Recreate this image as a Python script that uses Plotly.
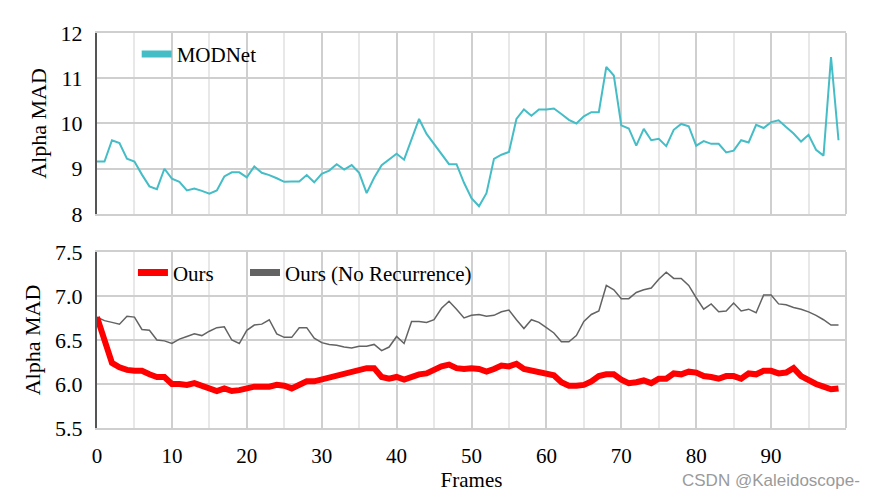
import plotly.graph_objects as go

frames = list(range(100))

modnet = [9.16, 9.16, 9.63, 9.57, 9.22, 9.16, 8.87, 8.61, 8.55, 9.00,
          8.78, 8.71, 8.52, 8.56, 8.51, 8.45, 8.52, 8.83, 8.92, 8.92,
          8.81, 9.05, 8.91, 8.86, 8.79, 8.71, 8.72, 8.72, 8.86, 8.70,
          8.89, 8.96, 9.10, 8.98, 9.08, 8.91, 8.46, 8.80, 9.08, 9.20,
          9.33, 9.20, 9.64, 10.10, 9.77, 9.55, 9.33, 9.10, 9.10, 8.69,
          8.35, 8.17, 8.46, 9.22, 9.31, 9.37, 10.10, 10.31, 10.17, 10.31,
          10.31, 10.33, 10.21, 10.08, 10.00, 10.16, 10.25, 10.25, 11.25, 11.06,
          9.96, 9.89, 9.51, 9.88, 9.63, 9.66, 9.50, 9.86, 9.99, 9.94,
          9.51, 9.61, 9.55, 9.55, 9.36, 9.40, 9.63, 9.58, 9.97, 9.90,
          10.03, 10.07, 9.92, 9.78, 9.60, 9.75, 9.42, 9.29, 11.47, 9.63]

ours = [6.76, 6.47, 6.24, 6.19, 6.16, 6.15, 6.15, 6.11, 6.08, 6.08,
        6.00, 6.00, 5.99, 6.01, 5.98, 5.94, 5.92, 5.95, 5.92, 5.93,
        5.95, 5.97, 5.97, 5.97, 5.99, 5.98, 5.95, 5.99, 6.03, 6.03,
        6.05, 6.08, 6.09, 6.11, 6.14, 6.16, 6.18, 6.18, 6.08, 6.06,
        6.08, 6.05, 6.08, 6.11, 6.12, 6.16, 6.20, 6.22, 6.18, 6.17,
        6.18, 6.17, 6.14, 6.17, 6.21, 6.20, 6.23, 6.17, 6.15, 6.14,
        6.11, 6.10, 6.02, 5.98, 5.98, 5.99, 6.03, 6.09, 6.11, 6.11,
        6.05, 6.01, 6.02, 6.04, 6.01, 6.06, 6.06, 6.12, 6.11, 6.14,
        6.13, 6.09, 6.08, 6.06, 6.09, 6.09, 6.06, 6.12, 6.11, 6.15,
        6.15, 6.12, 6.13, 6.18, 6.09, 6.04, 6.00, 5.97, 5.94, 5.95]

ours_norec = [6.76, 6.72, 6.70, 6.68, 6.77, 6.76, 6.62, 6.61, 6.50, 6.49,
              6.46, 6.51, 6.54, 6.57, 6.55, 6.60, 6.64, 6.65, 6.50, 6.46,
              6.61, 6.67, 6.68, 6.73, 6.57, 6.53, 6.53, 6.64, 6.64, 6.52,
              6.47, 6.45, 6.44, 6.42, 6.41, 6.43, 6.43, 6.45, 6.38, 6.42,
              6.54, 6.46, 6.71, 6.71, 6.70, 6.73, 6.86, 6.94, 6.85, 6.75,
              6.78, 6.79, 6.77, 6.78, 6.82, 6.84, 6.73, 6.63, 6.73, 6.70,
              6.64, 6.58, 6.48, 6.48, 6.55, 6.71, 6.79, 6.83, 7.12, 7.07,
              6.97, 6.97, 7.04, 7.07, 7.09, 7.19, 7.27, 7.20, 7.20, 7.12,
              6.98, 6.85, 6.91, 6.82, 6.83, 6.92, 6.83, 6.85, 6.81, 7.01,
              7.01, 6.91, 6.90, 6.87, 6.85, 6.82, 6.78, 6.73, 6.67, 6.67]

x_ticks = list(range(0, 100, 10))
x_minor = list(range(5, 100, 10))
top_ticks = [8, 9, 10, 11, 12]
bot_ticks = [5.5, 6.0, 6.5, 7.0, 7.5]

CYAN = "#45BDC6"
RED = "#FF0000"
GRAY = "#636363"
FONT = "Liberation Serif"

fig = go.Figure()

# data traces
fig.add_trace(go.Scatter(x=frames, y=modnet, mode="lines", line=dict(color=CYAN, width=2),
                         showlegend=False, xaxis="x", yaxis="y"))
fig.add_trace(go.Scatter(x=frames, y=ours_norec, mode="lines", line=dict(color=GRAY, width=1.5),
                         showlegend=False, xaxis="x2", yaxis="y2"))
fig.add_trace(go.Scatter(x=frames, y=ours, mode="lines", line=dict(color=RED, width=6),
                         showlegend=False, xaxis="x2", yaxis="y2"))

# legend entries
fig.add_trace(go.Scatter(x=[None], y=[None], mode="lines", name="MODNet",
                         line=dict(color=CYAN, width=7), xaxis="x", yaxis="y", legend="legend"))
fig.add_trace(go.Scatter(x=[None], y=[None], mode="lines", name="Ours",
                         line=dict(color=RED, width=7), xaxis="x2", yaxis="y2", legend="legend2"))
fig.add_trace(go.Scatter(x=[None], y=[None], mode="lines", name="Ours (No Recurrence)",
                         line=dict(color=GRAY, width=7), xaxis="x2", yaxis="y2", legend="legend3"))

xcommon = dict(range=[0, 100], tickvals=x_ticks, showgrid=True, gridcolor="#CFCFCF", gridwidth=1.5,
               minor=dict(tickvals=x_minor, showgrid=True, gridcolor="#E8E8E8", gridwidth=1.5),
               showline=True, linecolor="#CFCFCF", linewidth=2, mirror=True, zeroline=False,
               ticks="", tickfont=dict(family=FONT, size=21, color="black"))
ybase = dict(showgrid=True, gridcolor="#CFCFCF", gridwidth=1.5, zeroline=False,
             showline=True, linecolor="#555555", linewidth=2, ticks="",
             ticklabelstandoff=8,
             tickfont=dict(family=FONT, size=22, color="black"))

y_top_dom = [0.5418, 1.0]
y_bot_dom = [0.0, 0.4456]
legfont = dict(family=FONT, size=21, color="black")

fig.update_layout(
    width=880, height=500,
    margin=dict(l=97, r=34, t=33, b=72),
    plot_bgcolor="white", paper_bgcolor="white",
    font=dict(family=FONT, color="black"),
    xaxis=dict(**xcommon, anchor="y", showticklabels=False, domain=[0, 1]),
    xaxis2=dict(**xcommon, anchor="y2", matches="x", domain=[0, 1], ticklabelstandoff=8,
                title=dict(text="Frames", font=dict(family=FONT, size=21, color="black"), standoff=0)),
    yaxis=dict(**ybase, domain=y_top_dom, range=[8, 12], tickvals=top_ticks, anchor="x",
               title=dict(text="Alpha MAD", font=dict(family=FONT, size=22, color="black"), standoff=8)),
    yaxis2=dict(**ybase, domain=y_bot_dom, range=[5.5, 7.5], tickvals=bot_ticks, tickformat=".1f",
                anchor="x2",
                title=dict(text="Alpha MAD", font=dict(family=FONT, size=22, color="black"), standoff=8)),
    legend=dict(x=0.053, y=0.998, xanchor="left", yanchor="top", bgcolor="rgba(0,0,0,0)",
                font=legfont, itemwidth=30),
    legend2=dict(x=0.048, y=0.445, xanchor="left", yanchor="top",
                 bgcolor="rgba(0,0,0,0)", font=legfont, itemwidth=30),
    legend3=dict(x=0.1976, y=0.445, xanchor="left", yanchor="top",
                 bgcolor="rgba(0,0,0,0)", font=legfont, itemwidth=30),
    annotations=[dict(text="CSDN @Kaleidoscope-", xref="paper", yref="paper", x=1.021, y=-0.134,
                      xanchor="right", yanchor="middle", showarrow=False,
                      font=dict(family="Liberation Sans", size=17, color="#9A9A9A"))],
)

# right border of each panel
for xr, yr in [("x domain", "y domain"), ("x2 domain", "y2 domain")]:
    fig.add_shape(type="line", xref=xr, yref=yr, x0=1, x1=1, y0=0, y1=1,
                  line=dict(color="#CFCFCF", width=2), layer="below")

fig.write_html("out.html")
